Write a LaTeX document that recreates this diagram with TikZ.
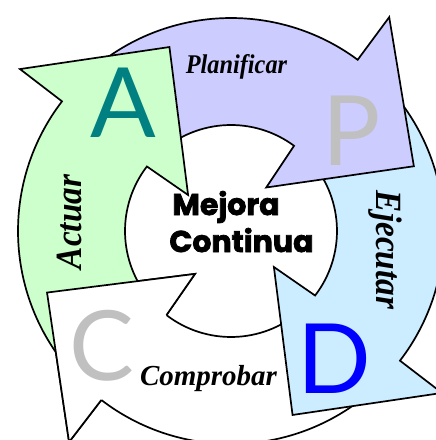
\documentclass[tikz,border=0pt]{standalone}
\usepackage{fontspec}
\newfontfamily\labelfont{Liberation Serif}[FakeStretch=0.9]
\newfontfamily\labelwidefont{Liberation Serif}
\newfontfamily\letterfont{Lato}
\newfontfamily\mejorafont{Poppins}[BoldFeatures={FakeBold=2.5}]
\definecolor{actgreen}{HTML}{CCFFCC}
\definecolor{planpurple}{HTML}{CCCCFF}
\definecolor{doblue}{HTML}{CCECFF}
\definecolor{ateal}{HTML}{008080}
\definecolor{lettergray}{HTML}{C0C0C0}
\tikzset{
  segment/.style={draw=black, line width=1.7pt},
  bigletter/.style={font=\letterfont\fontsize{97}{97}\selectfont, anchor=base, inner sep=0pt},
  steplabel/.style={font=\labelfont\bfseries\itshape\fontsize{27}{27}\selectfont, anchor=base, inner sep=0pt},
  sidelabel/.style={steplabel, font=\labelfont\bfseries\itshape\fontsize{37}{37}\selectfont},
  mejoratext/.style={font=\mejorafont\bfseries\fontsize{30}{30}\selectfont, anchor=base, inner sep=0pt}
}
\begin{document}
\begin{tikzpicture}[x=1pt, y=1pt]
\clip (-231,-209) rectangle (205,231);
% the four arrows of the cycle, white one first
\foreach \base/\col in {232.5/white, -37.5/doblue, 53.5/planpurple, 142.5/actgreen}
  \filldraw[segment, fill=\col] ({\base+78}:213pt) arc[start angle={\base+78}, end angle=\base, radius=213pt]
    -- (\base:266pt) -- ({\base-34}:194pt) -- ({\base-2.5}:56pt) -- (\base:106pt)
    arc[start angle=\base, end angle={\base+78}, radius=106pt] -- cycle;
% head of the white arrow again, over the green tail
\filldraw[segment, fill=white] (232.5:213pt) -- (232.5:266pt) -- (198.5:194pt) -- (230:56pt) -- (232.5:106pt);
\node[bigletter, text=ateal] (letterA) at (-107.5,94) {A};
\node[bigletter, text=lettergray] (letterP) at (121,66) {P};
\node[bigletter, text=blue] (letterD) at (103.5,-162) {D};
\node[bigletter, text=lettergray] (letterC) at (-129,-149) {C};
\node[steplabel] (planificar) at (5.5,158) {Planificar};
\node[steplabel, font=\labelwidefont\bfseries\itshape\fontsize{29}{29}\selectfont] (comprobar) at (-22.5,-154) {Comprobar};
\node[sidelabel, rotate=90] (actuar) at (-149,9) {Actuar};
\node[sidelabel, rotate=-90] (ejecutar) at (146,-19) {Ejecutar};
\node[mejoratext] (mejora) at (-5,16) {Mejora};
\node[mejoratext] (continua) at (10.5,-21) {Continua};
\end{tikzpicture}
\end{document}
